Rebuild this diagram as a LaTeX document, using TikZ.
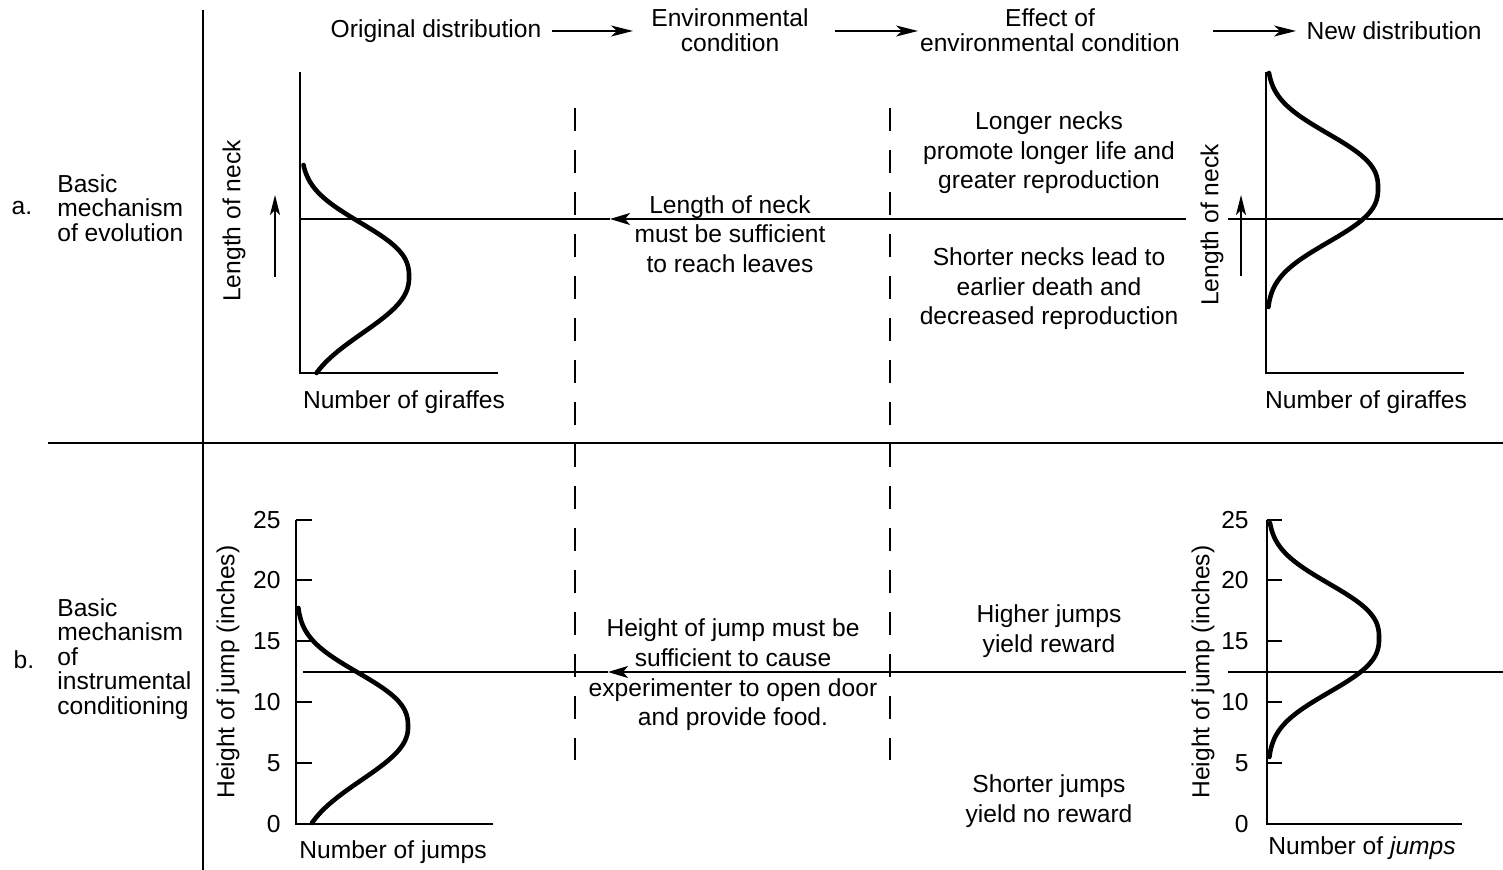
\documentclass[tikz,border=0pt]{standalone}
\usepackage{fontspec}
\setmainfont{Liberation Sans}
\usetikzlibrary{arrows.meta}
\begin{document}
\begin{tikzpicture}[x=0.5pt,y=-0.5pt,
  txt/.style={inner sep=0pt, font=\fontsize{12.3}{12.3}\selectfont},
  block/.style={inner sep=0pt, align=center, font=\fontsize{12.3}{14.8}\selectfont},
  side/.style={inner sep=0pt, align=left, anchor=west, font=\fontsize{12.3}{12.2}\selectfont},
  rule/.style={line width=1pt},
  axis/.style={line width=1.1pt},
  curve/.style={line width=2.3pt, line cap=round, line join=round},
  divider/.style={line width=1pt, dash pattern=on 11.5pt off 9.5pt},
  stage/.style={line width=1pt, -{Stealth[length=11pt, width=5.5pt, inset=3pt]}},
  flow/.style={line width=1pt, -{Stealth[length=10pt, width=6pt, inset=2.5pt]}},
  up/.style={line width=1pt, -{Stealth[length=10pt, width=5pt, inset=2.5pt]}},
  tick/.style={line width=1.1pt}
]
\useasboundingbox (0,0) rectangle (1503,870);

% bell-shaped frequency curve lying on its side:
% #1 axis x, #2 height, #3 peak y, #4 top y, #5 bottom y, #6 upper width, #7 lower width, #8 upper power, #9 lower power
\newcommand{\sidebell}[9]{%
  \draw[curve]
    plot[domain=#4:#3, samples=60, variable=\t]
      ({#1+#2*exp(-1*((abs(\t-#3)+0.01)/#6)^#8)}, {\t})
    -- plot[domain=#3:#5, samples=60, variable=\t]
      ({#1+#2*exp(-1*((abs(\t-#3)+0.01)/#7)^#9)}, {\t});
}

% ---------- frame ----------
\draw[rule] (203,10) coordinate (vt) -- (203,870) coordinate (vb);
\draw[rule] (48,443) coordinate (hl) -- (1503,443) coordinate (hr);
\draw[divider] (575,108) coordinate (d1t) -- (575,760) coordinate (d1b);
\draw[divider] (890,108) coordinate (d2t) -- (890,760) coordinate (d2b);

% ---------- column headings ----------
\node[txt] (h1) at (436,31) {Original distribution};
\node[txt, align=center, font=\fontsize{12.3}{12.6}\selectfont] (h2) at (730,30) {Environmental\\condition};
\node[txt, align=center, font=\fontsize{12.3}{12.6}\selectfont] (h3) at (1050,30) {Effect of\\environmental condition};
\node[txt] (h4) at (1394,31) {New distribution};
\coordinate (s1a) at (552,31); \coordinate (s1b) at (633,31);
\coordinate (s2a) at (835,31); \coordinate (s2b) at (918,31);
\coordinate (s3a) at (1213,31); \coordinate (s3b) at (1296,31);
\draw[stage] (s1a) -- (s1b);
\draw[stage] (s2a) -- (s2b);
\draw[stage] (s3a) -- (s3b);

% ---------- row a: evolution ----------
\node[txt] (la) at (22,208) {a.};
\node[side] (ta) at (57,208) {Basic\\mechanism\\of evolution};

% original distribution (giraffes)
\draw[axis] (300,72) -- (300,373) -- (498,373);
\node[txt, rotate=90] (ya1) at (234,221) {Length of neck};
\draw[up] (275,277) coordinate (ua1) -- (275,195) coordinate (ua2);
\node[txt] (xa1) at (404,402) {Number of giraffes};
\sidebell{301}{108}{277}{165}{373}{66.5}{72}{2.54}{2.3}

% threshold line a
\coordinate (ra1) at (1186,219); \coordinate (ra2) at (610,219); \coordinate (ra3) at (300,219);
\draw[flow] (ra1) -- (ra2);
\draw[rule] (ra2) -- (ra3);
\draw[rule] (1228,219) coordinate (ra4) -- (1503,219) coordinate (ra5);

\node[block] (ca) at (730,234) {Length of neck\\must be sufficient\\to reach leaves};
\node[block] (ea1) at (1049,153) {Longer necks\\promote longer life and\\greater reproduction};
\node[block] (ea2) at (1049,289) {Shorter necks lead to\\earlier death and\\decreased reproduction};

% new distribution (giraffes)
\draw[axis] (1266,72) -- (1266,373) -- (1464,373);
\node[txt, rotate=90] (ya2) at (1212,225) {Length of neck};
\draw[up] (1241,276) coordinate (ub1) -- (1241,195) coordinate (ub2);
\node[txt] (xa2) at (1366,402) {Number of giraffes};
\sidebell{1267}{111}{188}{73}{307}{66.5}{66.5}{2.54}{2.54}

% ---------- row b: instrumental conditioning ----------
\node[txt] (lb) at (24,660) {b.};
\node[side] (tb) at (57,659) {Basic\\mechanism\\of\\instrumental\\conditioning};

% original distribution (jumps)
\draw[axis] (296,520) -- (296,824) -- (493,824);
\foreach \v/\yy in {25/520,20/580,15/641,10/702,5/763,0/824}{
  \draw[tick] (296,\yy) -- (312,\yy);
  \node[txt, anchor=east] at (281,\yy) {\v};
}
\node[txt, rotate=90] (yb1) at (228,672) {Height of jump (inches)};
\node[txt] (xb1) at (393,852) {Number of jumps};
\sidebell{297}{111}{727}{608}{823}{66.5}{70}{2.54}{2.2}

% threshold line b
\coordinate (rb1) at (1186,672); \coordinate (rb2) at (608,672); \coordinate (rb3) at (303,672);
\draw[flow] (rb1) -- (rb2);
\draw[rule] (rb2) -- (rb3);
\draw[rule] (1228,672) coordinate (rb4) -- (1503,672) coordinate (rb5);

\node[block] (cb) at (733,675) {Height of jump must be\\sufficient to cause\\experimenter to open door\\and provide food.};
\node[block] (eb1) at (1049,631) {Higher jumps\\yield reward};
\node[block] (eb2) at (1049,801) {Shorter jumps\\yield no reward};

% new distribution (jumps)
\draw[axis] (1267,520) -- (1267,824) -- (1462,824);
\foreach \v/\yy in {25/520,20/580,15/641,10/702,5/763,0/824}{
  \draw[tick] (1267,\yy) -- (1282,\yy);
  \node[txt, anchor=east] at (1249,\yy) {\v};
}
\node[txt, rotate=90] (yb2) at (1203,672) {Height of jump (inches)};
\node[txt] (xb2) at (1362,848) {Number of \textit{jumps}};
\sidebell{1268}{111}{638}{523}{757}{66.5}{66.5}{2.54}{2.54}
\end{tikzpicture}
\end{document}
